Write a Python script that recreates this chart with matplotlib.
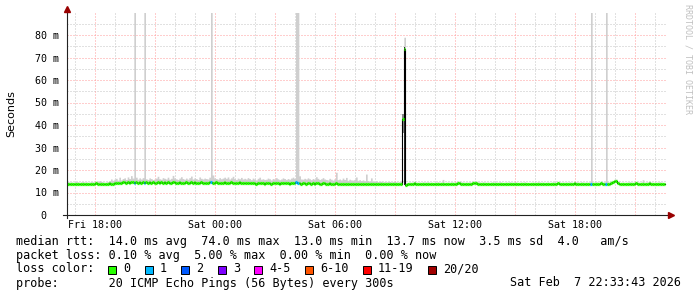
import numpy as np
import pandas as pd
import matplotlib
matplotlib.use("Agg")
import matplotlib.pyplot as plt
import matplotlib.dates as mdates
from matplotlib.patches import Rectangle
from matplotlib.lines import Line2D

W, H = 697, 297

# 5 minute steps from Fri 16:30, one row = one hour
start = "2026-02-06 16:30"
median_ms = [
    13.9, 14.0, 13.8, 13.9, 13.6, 13.8, 14.0, 13.9, 13.7, 13.9, 14.0, 13.8,
    13.9, 13.7, 13.8, 14.0, 13.9, 13.8, 14.1, 13.9, 13.8, 14.0, 13.9, 13.7,
    13.8, 14.0, 14.1, 13.9, 14.0, 14.2, 14.3, 14.1, 14.4, 14.2, 14.5, 14.6,
    14.4, 14.7, 14.3, 14.5, 14.6, 14.4, 14.5, 14.2, 14.6, 14.4, 14.5, 14.3,
    14.5, 14.3, 14.6, 14.4, 14.5, 14.2, 14.4, 14.6, 14.3, 14.5, 14.4, 14.6,
    14.3, 14.5, 14.4, 14.2, 14.5, 14.6, 14.4, 14.3, 14.5, 14.4, 14.2, 14.4,
    14.5, 14.3, 14.4, 14.6, 14.3, 14.5, 14.4, 14.2, 14.4, 14.5, 14.3, 14.4,
    14.4, 14.2, 14.5, 14.6, 14.3, 14.4, 14.5, 14.3, 14.2, 14.4, 14.3, 14.5,
    14.3, 14.4, 14.2, 14.5, 14.3, 14.4, 14.2, 14.3, 14.5, 14.2, 14.4, 14.3,
    14.2, 14.4, 14.3, 14.1, 14.3, 14.2, 14.0, 14.2, 14.3, 14.1, 14.2, 14.0,
    14.1, 14.3, 14.2, 14.0, 14.2, 14.1, 14.3, 14.2, 14.0, 14.1, 14.3, 14.2,
    14.1, 14.2, 14.0, 14.3, 14.2, 14.1, 14.5, 14.4, 14.2, 14.0, 14.1, 14.2,
    14.0, 14.2, 14.1, 13.9, 14.1, 14.0, 14.2, 14.1, 13.9, 14.0, 14.2, 14.1,
    14.0, 13.9, 14.1, 14.0, 13.8, 14.0, 14.1, 13.9, 14.0, 13.8, 14.0, 13.9,
    13.9, 14.0, 13.8, 14.0, 13.9, 13.7, 13.9, 14.0, 13.8, 13.9, 14.0, 13.8,
    13.9, 13.8, 14.0, 13.9, 13.7, 13.9, 13.8, 14.0, 13.9, 13.8, 13.9, 14.0,
    13.8, 13.9, 14.0, 13.8, 13.9, 14.0, 13.9, 13.8, 13.9, 14.0, 42.5, 74.0,
    13.4, 13.6, 13.9, 13.8, 14.0, 14.3, 13.9, 13.8, 13.9, 13.8, 14.0, 13.9,
    13.9, 14.0, 13.8, 13.9, 13.7, 13.8, 13.9, 14.0, 13.8, 13.9, 13.8, 13.7,
    13.8, 13.9, 13.8, 14.0, 13.9, 13.8, 14.0, 14.2, 14.3, 14.0, 13.9, 13.8,
    13.9, 13.8, 14.0, 13.9, 14.2, 14.4, 14.3, 14.0, 13.9, 13.8, 14.0, 13.9,
    13.8, 13.9, 13.7, 13.9, 14.0, 13.8, 13.9, 13.8, 14.0, 13.9, 13.7, 13.8,
    13.9, 13.8, 14.0, 13.9, 13.8, 14.0, 13.9, 13.7, 13.8, 13.9, 13.8, 14.0,
    13.8, 13.6, 13.7, 13.8, 13.9, 13.7, 13.8, 14.0, 13.9, 13.8, 13.9, 13.7,
    13.8, 13.9, 13.7, 13.8, 14.0, 13.9, 13.8, 14.1, 13.9, 13.8, 13.9, 13.8,
    13.9, 13.8, 14.0, 13.9, 13.8, 14.1, 14.0, 13.9, 13.8, 14.0, 13.9, 13.8,
    13.9, 13.8, 14.0, 13.7, 13.9, 13.8, 14.0, 13.9, 13.8, 14.1, 13.9, 14.0,
    13.8, 14.0, 13.9, 14.1, 14.6, 15.0, 15.2, 14.3, 13.6, 13.8, 13.9, 13.7,
    13.8, 13.9, 14.0, 13.9, 13.8, 14.0, 14.1, 13.9, 13.8, 13.9, 14.0, 13.8,
    13.9, 14.0, 14.2, 13.9, 13.8, 13.6, 13.8, 13.9, 14.0, 13.9, 13.8, 13.7,
]
smoke_max_ms = [
    14.7, 14.8, 14.6, 14.7, 14.5, 14.6, 14.8, 14.7, 14.5, 14.7, 14.8, 14.6,
    14.7, 14.5, 14.6, 14.8, 14.7, 14.6, 15.0, 14.8, 15.3, 14.9, 14.7, 14.5,
    14.6, 14.9, 15.2, 16.0, 15.4, 15.9, 16.3, 15.5, 16.8, 15.6, 16.2, 16.5,
    15.8, 16.9, 16.2, 17.5, 16.4, 95.0, 16.8, 15.9, 16.5, 16.0, 16.6, 95.0,
    16.1, 15.8, 16.5, 16.2, 15.7, 16.0, 16.4, 17.2, 16.1, 15.9, 16.6, 16.3,
    16.0, 16.8, 15.9, 16.3, 17.6, 16.5, 16.1, 15.8, 16.4, 17.0, 16.2, 15.9,
    16.4, 15.9, 16.6, 17.3, 16.0, 16.5, 16.2, 15.8, 16.9, 16.3, 16.0, 16.4,
    16.2, 16.0, 16.8, 95.0, 17.8, 16.5, 16.2, 15.9, 16.6, 16.1, 16.4, 16.8,
    16.3, 16.9, 16.0, 16.5, 17.2, 16.2, 15.8, 16.4, 16.1, 16.7, 16.0, 16.3,
    16.0, 16.6, 16.2, 15.7, 16.4, 16.0, 15.6, 16.3, 16.8, 15.9, 16.1, 15.8,
    15.9, 16.4, 16.1, 15.6, 16.2, 16.0, 16.6, 16.1, 15.7, 16.0, 16.5, 16.2,
    15.8, 16.2, 15.9, 16.4, 16.8, 16.3, 95.0, 95.0, 17.4, 16.0, 15.9, 16.3,
    16.0, 16.5, 16.1, 15.7, 16.2, 15.9, 17.0, 16.3, 15.8, 16.1, 16.6, 16.0,
    15.8, 15.6, 16.3, 15.9, 15.5, 16.1, 19.0, 15.7, 16.0, 15.6, 16.4, 15.8,
    16.7, 15.4, 15.9, 15.6, 15.5, 15.8, 16.9, 15.4, 15.7, 15.3, 15.6, 15.2,
    18.2, 15.3, 15.1, 16.5, 15.0, 14.9, 15.2, 14.8, 14.9, 15.0, 14.7, 14.8,
    14.7, 14.8, 14.9, 14.7, 14.8, 14.9, 14.7, 14.6, 14.8, 14.9, 45.0, 79.0,
    14.3, 14.4, 14.6, 14.5, 14.7, 14.9, 14.6, 14.5, 14.6, 14.5, 14.7, 14.6,
    14.6, 14.7, 14.5, 14.6, 14.4, 14.5, 14.6, 14.7, 14.5, 14.6, 15.8, 14.4,
    14.5, 14.6, 14.5, 14.7, 14.6, 14.5, 14.7, 14.9, 15.0, 14.7, 14.6, 14.5,
    14.6, 14.5, 14.7, 14.6, 14.9, 15.1, 15.0, 14.7, 14.6, 14.5, 14.7, 14.6,
    14.5, 14.6, 14.4, 14.6, 14.7, 14.5, 14.6, 14.5, 14.7, 14.6, 14.4, 14.5,
    14.6, 14.5, 14.7, 14.6, 14.5, 14.7, 14.6, 14.4, 14.5, 14.6, 14.5, 14.7,
    14.5, 14.3, 14.4, 14.5, 14.6, 14.4, 14.5, 14.7, 14.6, 14.5, 14.6, 14.4,
    14.5, 14.6, 14.4, 14.5, 14.7, 14.6, 14.5, 14.8, 14.6, 14.5, 14.6, 14.5,
    14.6, 14.5, 14.7, 14.6, 14.5, 14.8, 14.7, 14.6, 14.5, 14.7, 14.6, 14.5,
    14.6, 14.5, 14.7, 95.0, 14.6, 14.5, 14.7, 14.6, 14.5, 14.8, 14.6, 14.7,
    95.0, 14.7, 14.6, 14.8, 15.3, 15.7, 15.9, 15.0, 14.3, 14.5, 14.6, 14.4,
    14.5, 14.6, 14.7, 14.6, 14.5, 14.7, 14.8, 14.6, 14.5, 14.6, 15.7, 14.5,
    14.6, 14.7, 14.9, 14.6, 14.5, 14.3, 14.5, 14.6, 14.7, 14.6, 14.5, 14.4,
]

# intervals with lost pings (out of 20)
loss_times = ["2026-02-06 19:55", "2026-02-06 20:25", "2026-02-06 23:45",
              "2026-02-07 04:00", "2026-02-07 04:05", "2026-02-07 18:45",
              "2026-02-07 19:30"]
loss_counts = [1, 1, 1, 1, 1, 1, 1]

# dense smoke during the spike
spike_times = ["2026-02-07 09:20", "2026-02-07 09:25"]
spike_lo = [36.5, 13.5]
spike_hi = [45.0, 74.5]

y_ticks = [0, 10, 20, 30, 40, 50, 60, 70, 80]
y_labels = ["0  ", "10 m", "20 m", "30 m", "40 m", "50 m", "60 m", "70 m", "80 m"]
x_ticks = ["2026-02-06 18:00", "2026-02-07 00:00", "2026-02-07 06:00",
           "2026-02-07 12:00", "2026-02-07 18:00"]
x_labels = ["Fri 18:00", "Sat 00:00", "Sat 06:00", "Sat 12:00", "Sat 18:00"]

loss_names = ["0", "1", "2", "3", "4-5", "6-10", "11-19", "20/20"]
loss_colors = ["#26ff00", "#00b8ff", "#0059ff", "#7e00ff",
               "#ff00ff", "#ff5500", "#ff0000", "#a10000"]

legend_rows = [
    "median rtt:  14.0 ms avg  74.0 ms max  13.0 ms min  13.7 ms now  3.5 ms sd  4.0   am/s",
    "packet loss: 0.10 % avg  5.00 % max  0.00 % min  0.00 % now",
    "loss color:",
    "probe:       20 ICMP Echo Pings (56 Bytes) every 300s",
]
stamp = "Sat Feb  7 22:33:43 2026"

MONO = "DejaVu Sans Mono"


def fx(px):
    return px / W


def fy(py):
    return 1 - py / H


edges = pd.date_range(start, periods=len(median_ms) + 1, freq="5min")
xe = mdates.date2num(edges)
med = np.array(median_ms)
smk = np.array(smoke_max_ms)

loss = np.zeros(len(med), dtype=int)
for t, c in zip(loss_times, loss_counts):
    loss[int((pd.Timestamp(t) - edges[0]) / pd.Timedelta("5min"))] = c
seg_colors = [loss_colors[c] for c in loss]

fig = plt.figure(figsize=(W / 100, H / 100), dpi=100)
fig.patch.set_facecolor("white")
ax = fig.add_axes([fx(66.75), fy(215), 600 / W, 202.5 / H])

t0 = pd.Timestamp("2026-02-06 16:33:45")
t1 = pd.Timestamp("2026-02-07 22:33:45")
ax.set_xlim(mdates.date2num(t0), mdates.date2num(t1))
ax.set_ylim(0, 90)

# grid
dots = (0, (1, 2))
for v in range(5, 90, 5):
    ax.axhline(v, color="#ff9c9c" if v % 10 == 0 else "#c4c4c4",
               lw=0.72, ls=dots, zorder=0)
for h in pd.date_range(t0.ceil("h"), t1, freq="h"):
    ax.axvline(mdates.date2num(h), color="#ff9c9c" if h.hour % 3 == 0 else "#c4c4c4",
               lw=0.72, ls=dots, zorder=0)

# smoke
ax.fill_between(xe, np.append(med, med[-1]), np.append(smk, smk[-1]),
                step="post", color="#cfcfcf", lw=0, zorder=1)
for t, lo, hi, c in zip(spike_times, spike_lo, spike_hi, ["#8a8a8a", "#262626"]):
    a = mdates.date2num(pd.Timestamp(t))
    ax.fill_between([a, a + 5 / 1440], lo, hi, color=c, lw=0, zorder=2)

# median
ax.step(xe, np.append(med, med[-1]), where="post", color="black", lw=0.8, zorder=3)
ax.hlines(med, xe[:-1], xe[1:], colors=seg_colors, lw=2.3, zorder=4)

ax.set_yticks(y_ticks, y_labels)
ax.set_xticks(mdates.date2num(pd.to_datetime(x_ticks)), x_labels)
ax.tick_params(length=0, labelsize=7.2)
ax.tick_params(axis="y", pad=5.4)
ax.tick_params(axis="x", pad=3.5)
for lab in ax.get_xticklabels() + ax.get_yticklabels():
    lab.set_fontfamily(MONO)
for s in ax.spines.values():
    s.set_visible(False)

# axes with arrows
fig.add_artist(Line2D([fx(66.75), fx(66.75)], [fy(218), fy(9)], color="#222222", lw=0.8))
fig.add_artist(Line2D([fx(63), fx(671)], [fy(215), fy(215)], color="#222222", lw=0.8))
fig.add_artist(Line2D([fx(66.75)], [fy(9)], marker="^", ms=4.5, color="#990000", lw=0))
fig.add_artist(Line2D([fx(671)], [fy(215)], marker=">", ms=4.5, color="#990000", lw=0))

fig.text(fx(11), fy(114), "Seconds", rotation=90, ha="center", va="center",
         fontsize=8, family="DejaVu Sans")
fig.text(fx(688), fy(4), "RRDTOOL / TOBI OETIKER", rotation=270, ha="center",
         va="top", fontsize=6, family=MONO, color="#c0c0c0")

rows_y = [241, 255, 269, 283]
for txt, y in zip(legend_rows, rows_y):
    fig.text(fx(16), fy(y), txt, ha="left", va="center", fontsize=8.5, family=MONO)
fig.text(fx(681), fy(rows_y[3]), stamp, ha="right", va="center", fontsize=8.5, family=MONO)

# loss colour boxes
bx = 108
for name, col in zip(loss_names, loss_colors):
    fig.add_artist(Rectangle((fx(bx), fy(rows_y[2] + 4.5)), 8 / W, 8 / H,
                             facecolor=col, edgecolor="black", lw=0.7))
    fig.text(fx(bx + 15), fy(rows_y[2]), name, ha="left", va="center",
             fontsize=8.5, family=MONO)
    bx += 15 + len(name) * 7.1 + 14.5

fig.savefig("out.png", dpi=100)
